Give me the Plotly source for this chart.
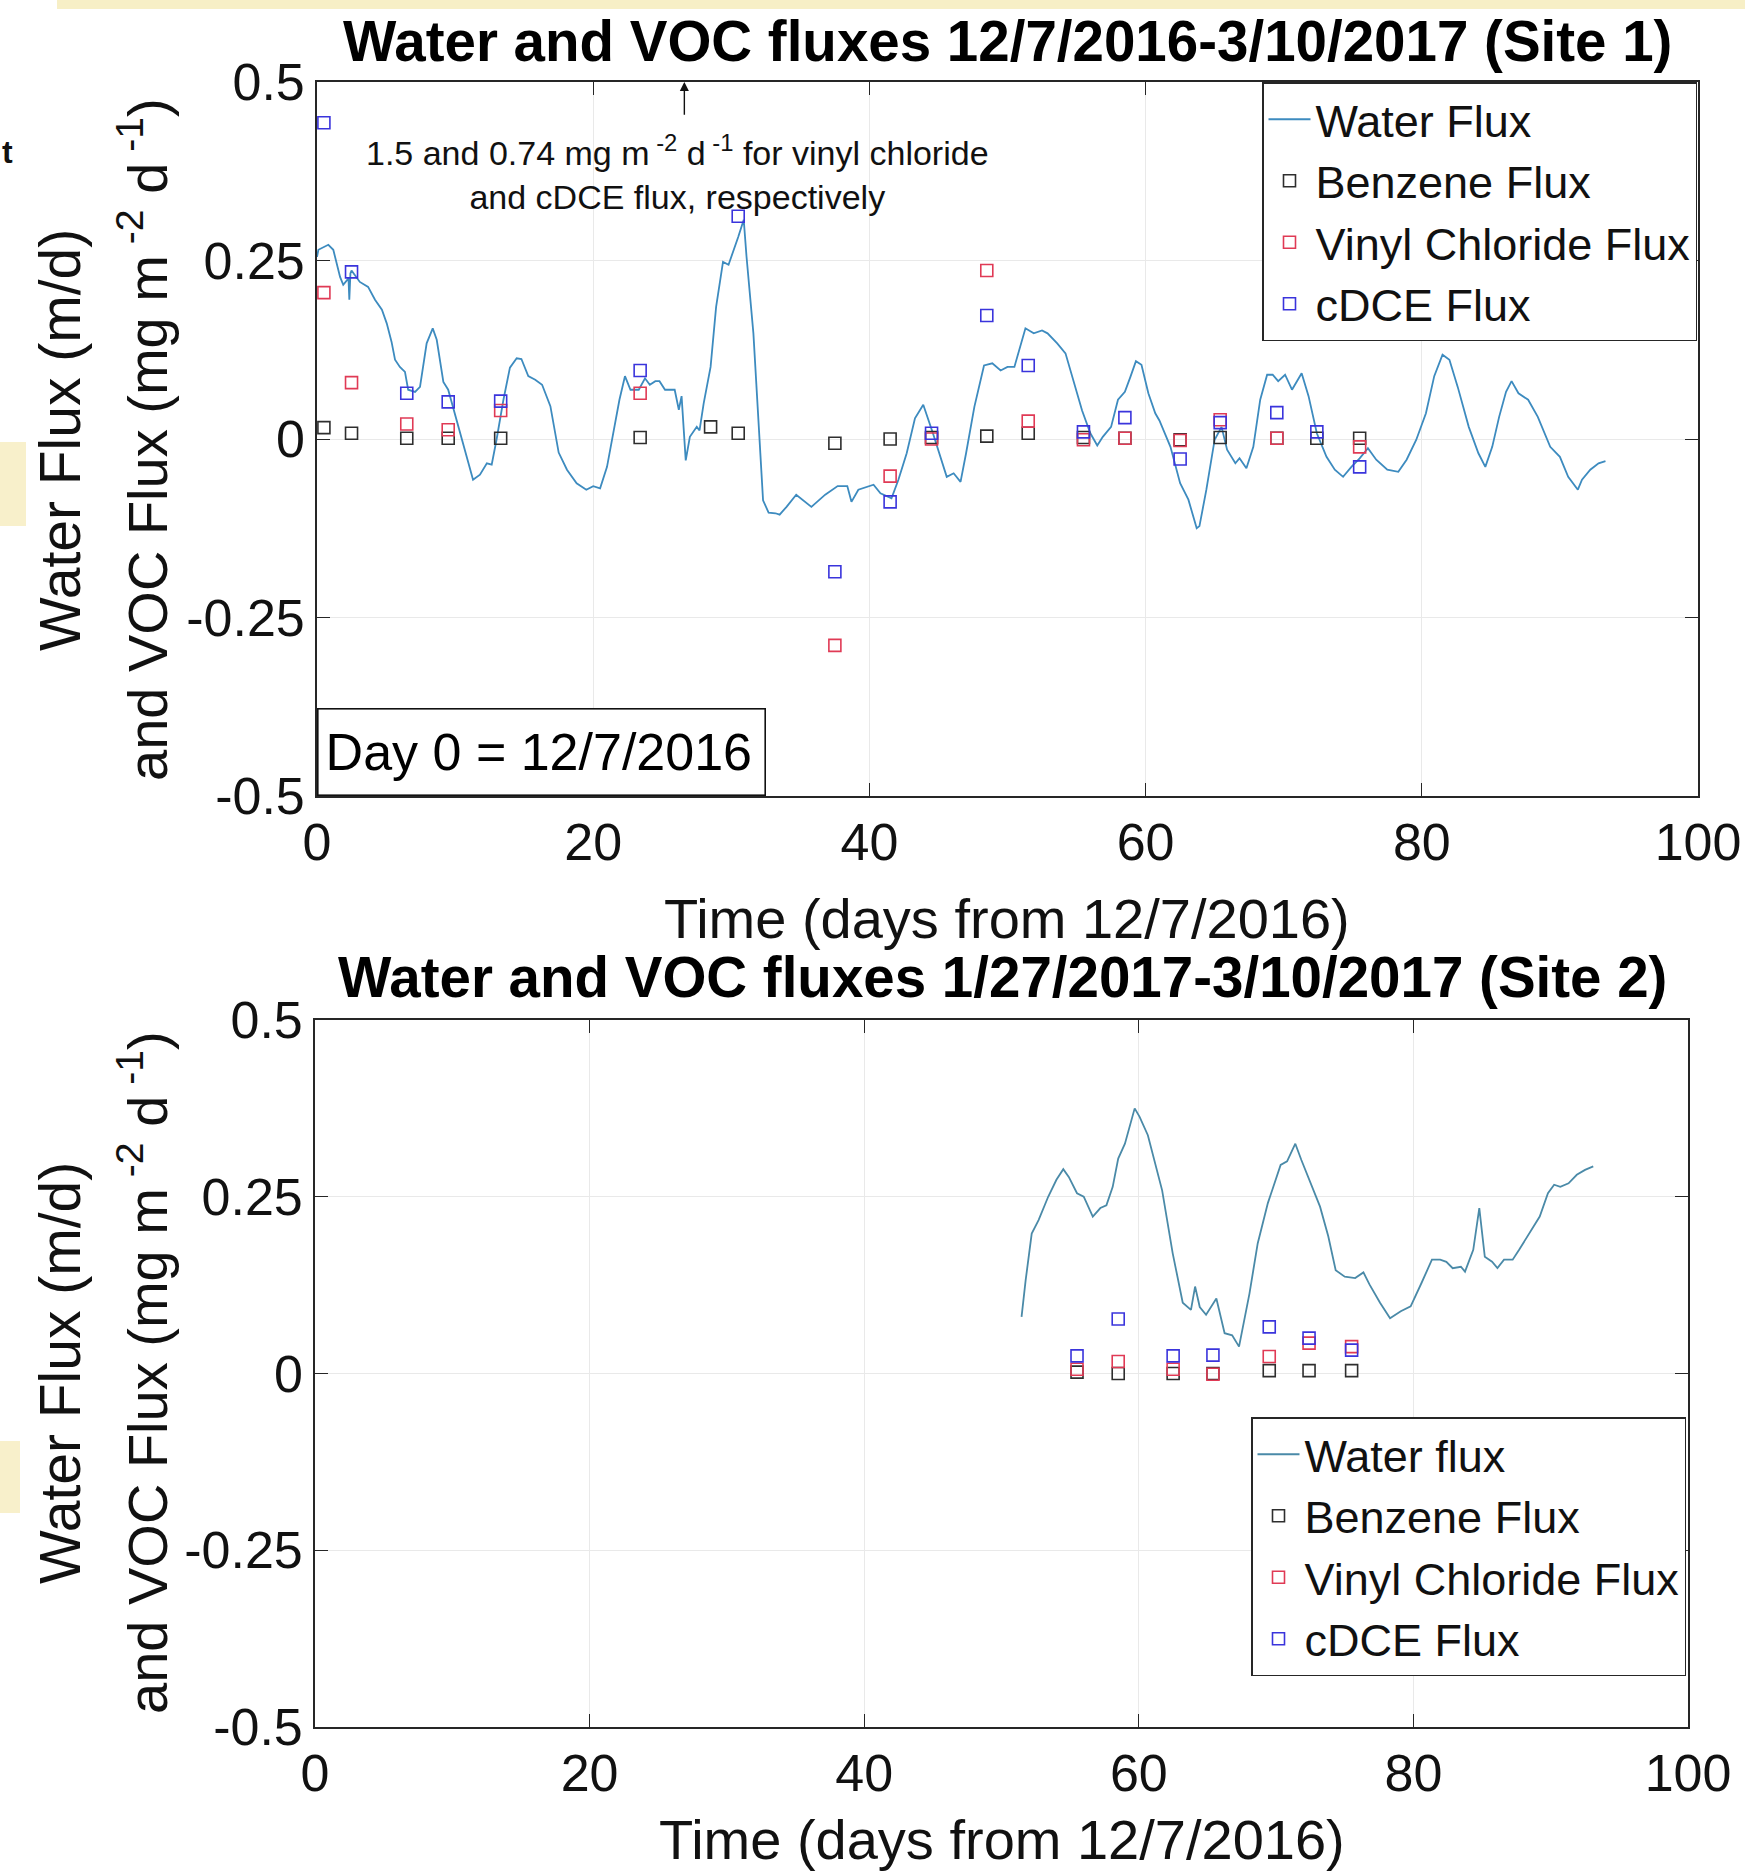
import plotly.graph_objects as go

# ---------------- data ----------------
# Site 1 water flux
site1_days = [0, 0.1, 0.82, 1.18, 1.67, 1.9, 2.28, 2.34, 2.42, 2.5, 3.1, 3.7, 4.2, 4.7, 5.05, 5.4,
              5.65, 6.0, 6.37, 6.6, 7.1, 7.46, 7.94, 8.38, 8.67, 9.15, 9.5, 10.1, 10.6, 11.3, 11.8,
              12.3, 12.65, 13.0, 13.5, 13.97, 14.46, 14.8, 15.3, 15.8, 16.3, 16.9, 17.5, 18.1, 18.8,
              19.5, 20.0, 20.5, 21.0, 21.5, 21.9, 22.3, 22.7, 23.3, 23.75, 24.1, 24.5, 24.8, 25.2,
              25.6, 25.9, 26.2, 26.4, 26.7, 27.0, 27.5, 27.7, 28.0, 28.5, 28.9, 29.4, 29.8, 30.1,
              30.5, 30.9, 31.1, 31.6, 32.0, 32.3, 32.7, 33.2, 33.5, 34.0, 34.7, 35.8, 36.8, 37.7,
              38.4, 38.7, 39.2, 40.3, 40.8, 41.6, 42.1, 42.7, 43.3, 43.9, 44.6, 45.2, 45.6, 46.1,
              46.6, 47.0, 47.6, 48.3, 48.9, 49.5, 50.0, 50.5, 50.9, 51.3, 51.9, 52.5, 52.9, 53.6,
              54.2, 54.7, 55.4, 56.0, 56.5, 56.9, 57.5, 58.0, 58.5, 58.9, 59.3, 59.7, 60.2, 60.7,
              61.0, 61.8, 62.5, 63.1, 63.7, 63.9, 64.4, 65.0, 65.5, 65.9, 66.5, 66.8, 67.3, 67.8,
              68.3, 68.8, 69.2, 69.6, 70.1, 70.6, 71.3, 71.8, 72.4, 73.1, 73.7, 74.3, 74.9, 75.5,
              76.1, 76.7, 77.5, 78.3, 78.9, 79.6, 80.3, 80.9, 81.5, 82.0, 82.6, 83.4, 84.1, 84.6,
              85.1, 85.6, 86.1, 86.5, 87.0, 87.7, 88.4, 89.3, 90.0, 90.6, 91.3, 91.6, 92.2, 92.8,
              93.3]
site1_water = [0.255, 0.265, 0.272, 0.265, 0.227, 0.216, 0.225, 0.195, 0.232, 0.236, 0.22, 0.213,
               0.195, 0.181, 0.162, 0.136, 0.111, 0.101, 0.094, 0.069, 0.066, 0.073, 0.134, 0.155,
               0.139, 0.08, 0.069, 0.027, -0.006, -0.057, -0.05, -0.034, -0.036, -0.001, 0.055, 0.1,
               0.113, 0.112, 0.088, 0.083, 0.076, 0.046, -0.019, -0.043, -0.062, -0.071, -0.066,
               -0.069, -0.039, 0.013, 0.055, 0.088, 0.069, 0.069, 0.085, 0.076, 0.081, 0.081, 0.069,
               0.069, 0.069, 0.041, 0.06, -0.03, 0.003, 0.017, 0.012, 0.05, 0.101, 0.185, 0.248,
               0.244, 0.26, 0.283, 0.307, 0.256, 0.148, 0.008, -0.086, -0.103, -0.104, -0.106,
               -0.095, -0.078, -0.095, -0.078, -0.066, -0.066, -0.088, -0.071, -0.064, -0.076,
               -0.083, -0.057, -0.02, 0.029, 0.048, 0.008, -0.03, -0.053, -0.048, -0.06, -0.02,
               0.045, 0.103, 0.106, 0.096, 0.101, 0.101, 0.13, 0.155, 0.148, 0.152, 0.148, 0.134,
               0.12, 0.087, 0.04, 0.008, -0.009, 0.003, 0.017, 0.055, 0.066, 0.087, 0.109, 0.104,
               0.064, 0.036, 0.026, -0.011, -0.062, -0.085, -0.125, -0.122, -0.071, -0.001, 0.017,
               -0.015, -0.034, -0.027, -0.041, -0.011, 0.055, 0.09, 0.09, 0.081, 0.09, 0.069, 0.092,
               0.06, 0.008, -0.025, -0.043, -0.053, -0.039, -0.027, -0.013, -0.029, -0.043, -0.046,
               -0.029, -0.001, 0.036, 0.088, 0.118, 0.111, 0.073, 0.017, -0.02, -0.039, -0.011,
               0.031, 0.066, 0.081, 0.064, 0.055, 0.031, -0.011, -0.025, -0.053, -0.071, -0.057,
               -0.043, -0.034, -0.031]

# Site 1 VOC samples
site1_sample_days = [0.5, 2.5, 6.5, 9.5, 13.3, 23.4, 28.5, 30.5, 37.5, 41.5, 44.5, 48.5, 51.5,
                     55.5, 58.5, 62.5, 65.4, 69.5, 72.4, 75.5]
site1_benzene = [0.016, 0.008, 0.001, 0.001, 0.001, 0.002, 0.017, 0.008, -0.006, 0.0, 0.002, 0.004,
                 0.008, 0.002, 0.001, -0.001, 0.002, 0.001, 0.001, 0.001]
site1_vinyl = [0.205, 0.079, 0.021, 0.013, 0.04, 0.064, 1.5, None, -0.289, -0.052, 0.0, 0.236,
               0.025, -0.001, 0.001, -0.002, 0.027, 0.001, None, -0.011]
site1_cdce = [0.443, 0.234, 0.064, 0.052, 0.053, 0.096, 0.74, 0.312, -0.186, -0.088, 0.008, 0.173,
              0.103, 0.01, 0.03, -0.028, 0.023, 0.037, 0.01, -0.039]

# Site 2 water flux
site2_days = [51.46, 51.76, 52.2, 52.7, 53.4, 54.0, 54.5, 54.9, 55.5, 55.99, 56.65, 57.2, 57.64,
              58.1, 58.5, 58.99, 59.7, 60.06, 60.66, 61.27, 61.7, 62.47, 63.2, 63.8, 64.1, 64.44,
              64.9, 65.65, 66.25, 66.8, 67.3, 68.06, 68.66, 69.4, 70.33, 70.8, 71.4, 71.84, 72.44,
              73.2, 73.8, 74.34, 75.0, 75.76, 76.36, 76.8, 77.57, 78.3, 79.08, 79.8, 80.59, 81.35,
              81.95, 82.4, 82.86, 83.46, 83.76, 84.36, 84.8, 85.2, 85.73, 86.12, 86.6, 87.23, 87.7,
              88.44, 89.2, 89.8, 90.25, 90.7, 91.3, 91.9, 92.5, 93.1]
site2_water = [0.08, 0.132, 0.198, 0.217, 0.25, 0.274, 0.289, 0.278, 0.255, 0.25, 0.222, 0.234,
               0.238, 0.264, 0.304, 0.325, 0.375, 0.363, 0.337, 0.292, 0.259, 0.17, 0.1, 0.09,
               0.123, 0.094, 0.083, 0.106, 0.057, 0.054, 0.038, 0.113, 0.184, 0.241, 0.295, 0.3,
               0.325, 0.302, 0.274, 0.236, 0.194, 0.146, 0.137, 0.135, 0.143, 0.126, 0.1, 0.078,
               0.088, 0.095, 0.128, 0.161, 0.161, 0.158, 0.149, 0.151, 0.144, 0.175, 0.234, 0.165,
               0.158, 0.149, 0.161, 0.161, 0.175, 0.198, 0.222, 0.255, 0.267, 0.264, 0.269, 0.281,
               0.288, 0.293]

# Site 2 VOC samples
site2_sample_days = [55.5, 58.5, 62.5, 65.4, 69.5, 72.4, 75.5]
site2_benzene = [0.002, 0.0, 0.0, 0.0, 0.004, 0.004, 0.004]
site2_vinyl = [0.006, 0.017, 0.006, -0.001, 0.024, 0.043, 0.038]
site2_cdce = [0.025, 0.077, 0.025, 0.026, 0.066, 0.05, 0.033]

x_ticks = [0, 20, 40, 60, 80, 100]
y_ticks = [-0.5, -0.25, 0, 0.25, 0.5]
y_tick_labels = ["-0.5", "-0.25", "0", "0.25", "0.5"]

# ---------------- figure ----------------
W, H = 1745, 1875
FONT = "Liberation Sans, Arial, Helvetica, sans-serif"
C_BENZ = "#2e2e2e"
C_VC = "#e03a55"
C_CDCE = "#3a34dc"


def px(x):
    return x / W


def py(y):
    return 1 - y / H


fig = go.Figure()

mk = dict(symbol="square-open", size=12, line=dict(width=1.6))

# Site 1
fig.add_trace(go.Scatter(x=site1_days, y=site1_water, mode="lines", name="Water Flux",
                         line=dict(color="#3d8bbf", width=1.8), xaxis="x", yaxis="y",
                         legend="legend"))
fig.add_trace(go.Scatter(x=site1_sample_days, y=site1_benzene, mode="markers", name="Benzene Flux",
                         marker=dict(color=C_BENZ, **mk), xaxis="x", yaxis="y", legend="legend"))
fig.add_trace(go.Scatter(x=site1_sample_days, y=site1_vinyl, mode="markers",
                         name="Vinyl Chloride Flux", marker=dict(color=C_VC, **mk),
                         xaxis="x", yaxis="y", legend="legend"))
fig.add_trace(go.Scatter(x=site1_sample_days, y=site1_cdce, mode="markers", name="cDCE Flux",
                         marker=dict(color=C_CDCE, **mk), xaxis="x", yaxis="y", legend="legend"))

# Site 2
fig.add_trace(go.Scatter(x=site2_days, y=site2_water, mode="lines", name="Water flux",
                         line=dict(color="#4a8aa8", width=1.8), xaxis="x2", yaxis="y2",
                         legend="legend2"))
fig.add_trace(go.Scatter(x=site2_sample_days, y=site2_benzene, mode="markers", name="Benzene Flux",
                         marker=dict(color=C_BENZ, **mk), xaxis="x2", yaxis="y2",
                         legend="legend2"))
fig.add_trace(go.Scatter(x=site2_sample_days, y=site2_vinyl, mode="markers",
                         name="Vinyl Chloride Flux", marker=dict(color=C_VC, **mk),
                         xaxis="x2", yaxis="y2", legend="legend2"))
fig.add_trace(go.Scatter(x=site2_sample_days, y=site2_cdce, mode="markers", name="cDCE Flux",
                         marker=dict(color=C_CDCE, **mk), xaxis="x2", yaxis="y2",
                         legend="legend2"))

axis_common = dict(showline=True, linecolor="#262626", linewidth=1.6, mirror="ticks",
                   ticks="inside", ticklen=13, tickwidth=1.4, tickcolor="#262626",
                   showgrid=True, gridcolor="#e9e9e9", gridwidth=1, zeroline=False,
                   tickfont=dict(family=FONT, size=52, color="#111111"), automargin=False)

legend_common = dict(xanchor="right", yanchor="top", bgcolor="white",
                     bordercolor="#262626", borderwidth=1.5, itemwidth=42,
                     font=dict(family=FONT, size=45, color="#111111"), tracegroupgap=0)

fig.update_layout(
    width=W, height=H,
    margin=dict(l=0, r=0, t=0, b=0),
    paper_bgcolor="white", plot_bgcolor="white",
    font=dict(family=FONT, color="#111111"),
    xaxis=dict(domain=[px(317), px(1698)], anchor="y", range=[0, 100], tickvals=x_ticks,
               **axis_common),
    yaxis=dict(domain=[py(796), py(82)], anchor="x", range=[-0.5, 0.5], tickvals=y_ticks,
               ticktext=y_tick_labels, **axis_common),
    xaxis2=dict(domain=[px(315), px(1688)], anchor="y2", range=[0, 100], tickvals=x_ticks,
                **axis_common),
    yaxis2=dict(domain=[py(1727), py(1020)], anchor="x2", range=[-0.5, 0.5], tickvals=y_ticks,
                ticktext=y_tick_labels, **axis_common),
    legend=dict(x=px(1697), y=py(82), **legend_common),
    legend2=dict(x=px(1686), y=py(1417), **legend_common),
    showlegend=True,
)

ann = []
# panel titles
ann.append(dict(text="<b>Water and VOC fluxes 12/7/2016-3/10/2017 (Site 1)</b>", x=px(1007),
                y=py(41), xref="paper", yref="paper", showarrow=False, xanchor="center",
                yanchor="middle", font=dict(family=FONT, size=56.5, color="#000000")))
ann.append(dict(text="<b>Water and VOC fluxes 1/27/2017-3/10/2017 (Site 2)</b>", x=px(1002),
                y=py(978), xref="paper", yref="paper", showarrow=False, xanchor="center",
                yanchor="middle", font=dict(family=FONT, size=56.5, color="#000000")))
# x-axis titles
for cx, cy in [(1007, 918), (1002, 1839)]:
    ann.append(dict(text="Time (days from 12/7/2016)", x=px(cx), y=py(cy), xref="paper",
                    yref="paper", showarrow=False, xanchor="center", yanchor="middle",
                    font=dict(family=FONT, size=56, color="#111111")))
# y-axis titles
for cy in [440, 1373]:
    ann.append(dict(text="Water Flux (m/d)", x=px(60), y=py(cy), xref="paper", yref="paper",
                    showarrow=False, textangle=-90, xanchor="center", yanchor="middle",
                    font=dict(family=FONT, size=57, color="#111111")))
    ann.append(dict(text="and VOC Flux (mg m<sup> -2</sup> d<sup> -1</sup>)", x=px(143),
                    y=py(cy), xref="paper", yref="paper", showarrow=False, textangle=-90,
                    xanchor="center", yanchor="middle",
                    font=dict(family=FONT, size=56, color="#111111")))
# Day 0 box
ann.append(dict(text="Day 0 = 12/7/2016", x=0, y=0, xref="x domain", yref="y domain",
                xanchor="left", yanchor="bottom", showarrow=False, align="left",
                bgcolor="white", bordercolor="#111111", borderwidth=1.6, borderpad=7,
                width=432, height=71,
                font=dict(family=FONT, size=52, color="#000000")))
# off-scale note with arrow
ann.append(dict(text="", x=26.6, y=0.5, ax=26.6, ay=0.452, xref="x", yref="y", axref="x",
                ayref="y", showarrow=True, arrowhead=2, arrowsize=1.3, arrowwidth=1.4,
                arrowcolor="#111111"))
ann.append(dict(text="1.5 and 0.74 mg m<sup> -2</sup> d<sup> -1</sup> for vinyl chloride"
                     "<br>and cDCE flux, respectively",
                x=26.1, y=0.373, xref="x", yref="y", showarrow=False, xanchor="center",
                yanchor="middle", align="center",
                font=dict(family=FONT, size=34, color="#111111")))
# stray character from the source page
ann.append(dict(text="<b>t</b>", x=px(8), y=py(152), xref="paper", yref="paper",
                showarrow=False, xanchor="center", yanchor="middle",
                font=dict(family=FONT, size=32, color="#111111")))
fig.update_layout(annotations=ann)

# faint highlighter marks from the source page
shapes = [
    dict(type="rect", xref="paper", yref="paper", x0=px(57), x1=1, y0=py(9), y1=1,
         fillcolor="#f7efc6", line=dict(width=0), layer="below"),
    dict(type="rect", xref="paper", yref="paper", x0=0, x1=px(26), y0=py(526), y1=py(442),
         fillcolor="#f8f0cb", line=dict(width=0), layer="below"),
    dict(type="rect", xref="paper", yref="paper", x0=0, x1=px(20), y0=py(1513), y1=py(1441),
         fillcolor="#f8f0cb", line=dict(width=0), layer="below"),
]
fig.update_layout(shapes=shapes)

fig.write_html(
    "out.html",
    config={"displayModeBar": False},
    post_script="document.body.style.margin='0';document.body.style.overflow='hidden';",
)
